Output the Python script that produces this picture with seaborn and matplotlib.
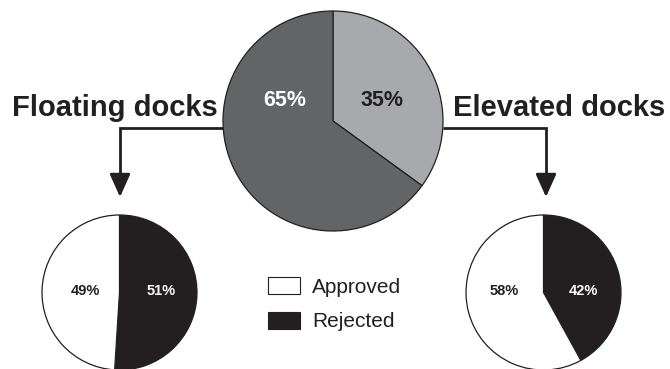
import matplotlib
matplotlib.use("Agg")
import matplotlib.pyplot as plt
from matplotlib.patches import Patch
import seaborn as sns

# ---- data ----
dock_types = ["Floating docks", "Elevated docks"]
dock_share = [65, 35]            # % of all docks
approved = [49, 58]              # % approved within each dock type
rejected = [51, 42]              # % rejected within each dock type
status_labels = ["Approved", "Rejected"]

sns.set_theme(style="white")
plt.rcParams["font.family"] = ["Liberation Sans", "DejaVu Sans"]

INK = "#231f20"
DARK_GREY = "#636466"
LIGHT_GREY = "#a7a9ac"
WHITE = "#ffffff"

W, H = 670, 369
fig = plt.figure(figsize=(W / 100, H / 100), dpi=100)
ax = fig.add_axes([0, 0, 1, 1])

def Y(y):  # convert top-down pixel position to axes coords
    return H - y

edge = dict(edgecolor=INK, linewidth=0.9)

# big pie: Elevated (light) first clockwise from top, then Floating (dark)
big_c = (333, Y(121)); big_r = 110
ax.pie([dock_share[1], dock_share[0]], center=big_c, radius=big_r,
       startangle=90, counterclock=False, colors=[LIGHT_GREY, DARK_GREY],
       wedgeprops=edge)
ax.text(big_c[0] - 48, Y(106), f"{dock_share[0]}%", ha="center", va="baseline",
        fontsize=15.5, fontweight="bold", color=WHITE)
ax.text(big_c[0] + 49, Y(106), f"{dock_share[1]}%", ha="center", va="baseline",
        fontsize=15.5, fontweight="bold", color=INK)

# small pies: Rejected (black) first clockwise from top, then Approved (white)
small_r = 77.5
small_centers = [(119.5, Y(292.5)), (543.5, Y(292.5))]
label_dx = [(-34.5, 41.5), (-39.5, 39.5)]
for i, c in enumerate(small_centers):
    ax.pie([rejected[i], approved[i]], center=c, radius=small_r,
           startangle=90, counterclock=False, colors=[INK, WHITE],
           wedgeprops=edge)
    dxa, dxr = label_dx[i]
    ax.text(c[0] + dxa, Y(295), f"{approved[i]}%", ha="center", va="baseline",
            fontsize=10.5, fontweight="bold", color=INK)
    ax.text(c[0] + dxr, Y(295), f"{rejected[i]}%", ha="center", va="baseline",
            fontsize=10.5, fontweight="bold", color=WHITE)

# connector arrows
line_y = Y(128)
for x_pie, x_turn in [(big_c[0] - big_r, 120), (big_c[0] + big_r, 546)]:
    ax.plot([x_pie, x_turn, x_turn], [line_y, line_y, Y(186)], color=INK,
            lw=2, solid_joinstyle="miter", solid_capstyle="butt")
    ax.annotate("", xy=(x_turn, Y(197)), xytext=(x_turn, Y(184)),
                arrowprops=dict(arrowstyle="-|>,head_length=1.0,head_width=0.45",
                                color=INK, lw=2, shrinkA=0, shrinkB=0,
                                mutation_scale=14))

# titles
ax.text(218, Y(116), dock_types[0], ha="right", va="baseline",
        fontsize=21, fontweight="bold", color=INK)
ax.text(453, Y(116), dock_types[1], ha="left", va="baseline",
        fontsize=21, fontweight="bold", color=INK)

# legend
handles = [Patch(facecolor=WHITE, edgecolor=INK, linewidth=0.8),
           Patch(facecolor=INK, edgecolor=INK, linewidth=0.8)]
leg = fig.legend(handles, status_labels, loc="upper left",
                 bbox_to_anchor=(268 / W, 1 - 277 / H), frameon=False,
                 fontsize=15, handlelength=1.54, handleheight=0.87,
                 handletextpad=0.58, labelspacing=0.72, borderpad=0,
                 borderaxespad=0)
for t in leg.get_texts():
    t.set_color(INK)

ax.set_xlim(0, W)
ax.set_ylim(0, H)
ax.set_aspect("auto")
ax.axis("off")

fig.savefig("out.png", dpi=100, facecolor="white")
